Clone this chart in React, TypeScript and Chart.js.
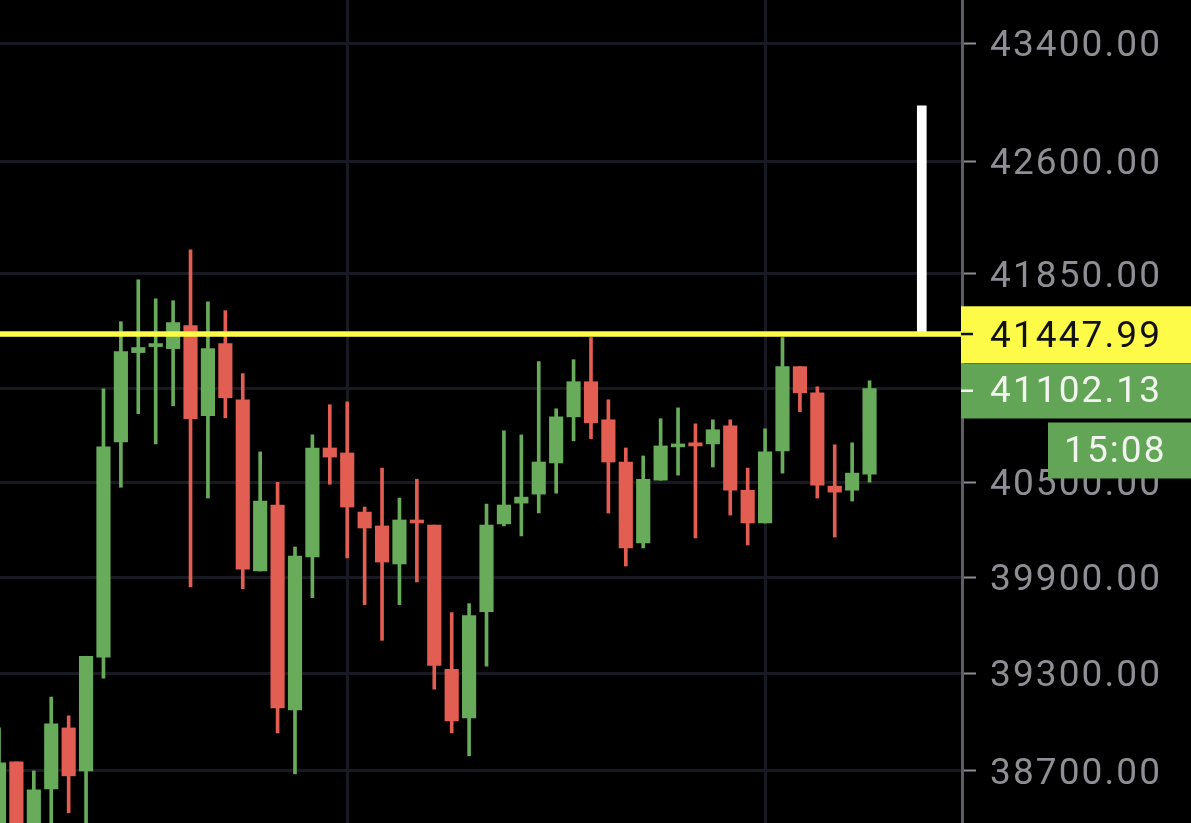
import React, { useEffect, useRef } from "react";
import { Chart, registerables } from "chart.js";

Chart.register(...registerables);

const opens = [38340, 38755, 38330, 38591, 38963, 38700, 39399, 40758, 41335, 41374, 41361, 41511, 40926, 41394, 41029, 39938, 40355, 39074, 40026, 40719, 40687, 40310, 40222, 39982, 40260, 40228, 39324, 39025, 39683, 40235, 40367, 40424, 40623, 40919, 41146, 40900, 40629, 40114, 40513, 40726, 40752, 40745, 40861, 40449, 40241, 40700, 41244, 41074, 40475, 40449, 40552];
const closes = [38749, 38320, 38585, 38988, 38670, 39405, 40726, 41341, 41368, 41394, 41531, 40907, 41361, 41042, 39950, 40380, 39086, 40032, 40719, 40661, 40342, 40209, 39994, 40260, 40241, 39349, 39006, 39659, 40228, 40355, 40405, 40629, 40919, 41146, 40881, 40629, 40083, 40519, 40732, 40745, 40732, 40836, 40449, 40241, 40694, 41244, 41074, 40481, 40437, 40558, 41102.13];
const highs = [38963, 38755, 38700, 39153, 39037, 39405, 41100, 41537, 41811, 41687, 41674, 42010, 41667, 41609, 41198, 40694, 40500, 40089, 40803, 40997, 41016, 40342, 40590, 40399, 40519, 40228, 39677, 39733, 40361, 40829, 40803, 41276, 40971, 41289, 41433, 41029, 40719, 40668, 40907, 40977, 40874, 40900, 40900, 40590, 40842, 41433, 41244, 41113, 40739, 40752, 41152];
const lows = [38280, 38290, 38300, 38350, 38446, 38360, 39269, 40468, 40939, 40745, 40990, 39838, 40399, 40913, 39826, 39938, 38933, 38682, 39770, 40487, 40020, 39727, 39504, 39727, 39869, 39202, 38933, 38792, 39343, 40222, 40159, 40304, 40430, 40765, 40778, 40304, 39969, 40083, 40513, 40545, 40146, 40597, 40291, 40102, 40241, 40558, 40952, 40399, 40152, 40380, 40500];

const yTicks = [43400, 42600, 41850, 41100, 40500, 39900, 39300, 38700];
const verticalGridCandles = [20, 44];
const markerCandle = 53;
const markerTop = 42973;
const alertPrice = 41447.99;
const lastPrice = 41102.13;
const countdown = "15:08";

const GREEN = "#67ab5b";
const RED = "#e25d52";
const TAG_GREEN = "#63a557";
const YELLOW = "#fdfb47";
const GRID = "#191923";
const AXIS = "#5d5d68";
const LABEL = "#8e8e94";
const FONT = "Roboto";

const candleColor = opens.map((o, i) => (closes[i] >= o ? GREEN : RED));

const tagsPlugin = {
  id: "tags",
  beforeDraw(chart: any) {
    chart.ctx.letterSpacing = "2.1px";
  },
  afterDatasetsDraw(chart: any) {
    const { ctx, chartArea, scales } = chart;
    const y = scales.y.getPixelForValue(alertPrice);
    ctx.save();
    ctx.fillStyle = YELLOW;
    ctx.fillRect(chartArea.left, y - 4, chartArea.right - chartArea.left, 5.5);
    ctx.restore();
  },
  afterDraw(chart: any) {
    const { ctx, chartArea, scales, width } = chart;
    const left = chartArea.right - 1;
    const yA = scales.y.getPixelForValue(alertPrice);
    const yL = scales.y.getPixelForValue(lastPrice);
    ctx.save();
    ctx.textBaseline = "middle";
    ctx.textAlign = "left";
    ctx.font = `400 37px ${FONT}`;

    ctx.fillStyle = YELLOW;
    ctx.fillRect(left, yA - 29, width - left, 57);
    ctx.fillStyle = TAG_GREEN;
    ctx.fillRect(left, yL - 25, width - left, 55);
    ctx.fillRect(1048, yL + 34, width - 1048, 56);

    ctx.fillStyle = "#111111";
    ctx.fillRect(left, yA - 2.5, 12, 2.5);
    ctx.fillText(alertPrice.toFixed(2), 990, yA + 2);
    ctx.fillStyle = "#f2f5ef";
    ctx.fillRect(left, yL + 1, 12, 2.5);
    ctx.fillText(lastPrice.toFixed(2), 990, yL + 4);
    ctx.fillText(countdown, 1064, yL + 64);
    ctx.restore();
  },
};

export default function App() {
  const ref = useRef<HTMLCanvasElement>(null);

  useEffect(() => {
    const bars = (top: number[], bottom: number[]) =>
      top.map((v, i) => ({ x: i, y: [bottom[i], v] }));

    const chart = new Chart(ref.current as HTMLCanvasElement, {
      type: "bar",
      data: {
        datasets: [
          {
            label: "Body",
            data: bars(closes, opens),
            backgroundColor: candleColor,
            barThickness: 13.5,
            grouped: false,
          },
          {
            label: "Wick",
            data: bars(highs, lows),
            backgroundColor: candleColor,
            barThickness: 3,
            grouped: false,
          },
          {
            label: "Marker",
            data: [{ x: markerCandle, y: [alertPrice, markerTop] }],
            backgroundColor: "#ffffff",
            barThickness: 9,
            grouped: false,
          },
        ] as any,
      },
      plugins: [tagsPlugin],
      options: {
        animation: false,
        responsive: false,
        devicePixelRatio: 1,
        layout: { padding: 0 },
        plugins: { legend: { display: false }, tooltip: { enabled: false }, title: { display: false } },
        scales: {
          x: {
            type: "linear",
            offset: false,
            min: 0.0574,
            max: 55.31,
            afterBuildTicks: (s: any) => {
              s.ticks = verticalGridCandles.map((value) => ({ value }));
            },
            afterFit: (s: any) => {
              s.height = 0;
              s.paddingLeft = 0;
              s.paddingRight = 0;
              s.paddingTop = 0;
              s.paddingBottom = 0;
            },
            ticks: { display: false },
            border: { display: false },
            grid: { color: GRID, lineWidth: 3, drawTicks: false, offset: false },
          },
          y: {
            type: "logarithmic",
            position: "right",
            min: 38384,
            max: 43695,
            beginAtZero: false,
            afterBuildTicks: (s: any) => {
              s.ticks = yTicks.map((value) => ({ value }));
            },
            afterFit: (s: any) => {
              s.width = 229;
              s.paddingTop = 0;
              s.paddingBottom = 0;
            },
            ticks: {
              autoSkip: false,
              maxRotation: 0,
              padding: 14,
              labelOffset: 4,
              color: LABEL,
              font: { family: FONT, size: 37, weight: "400" },
              callback: (v: any) => Number(v).toFixed(2),
            },
            border: { color: AXIS, width: 3 },
            grid: { color: GRID, lineWidth: 3, tickColor: LABEL, tickWidth: 2, tickLength: 14 },
          },
        },
      } as any,
    });
    return () => chart.destroy();
  }, []);

  return (
    <div style={{ position: "fixed", left: 0, top: 0, width: 1191, height: 823, background: "#000" }}>
      <canvas ref={ref} width={1191} height={823} style={{ display: "block" }} />
    </div>
  );
}
